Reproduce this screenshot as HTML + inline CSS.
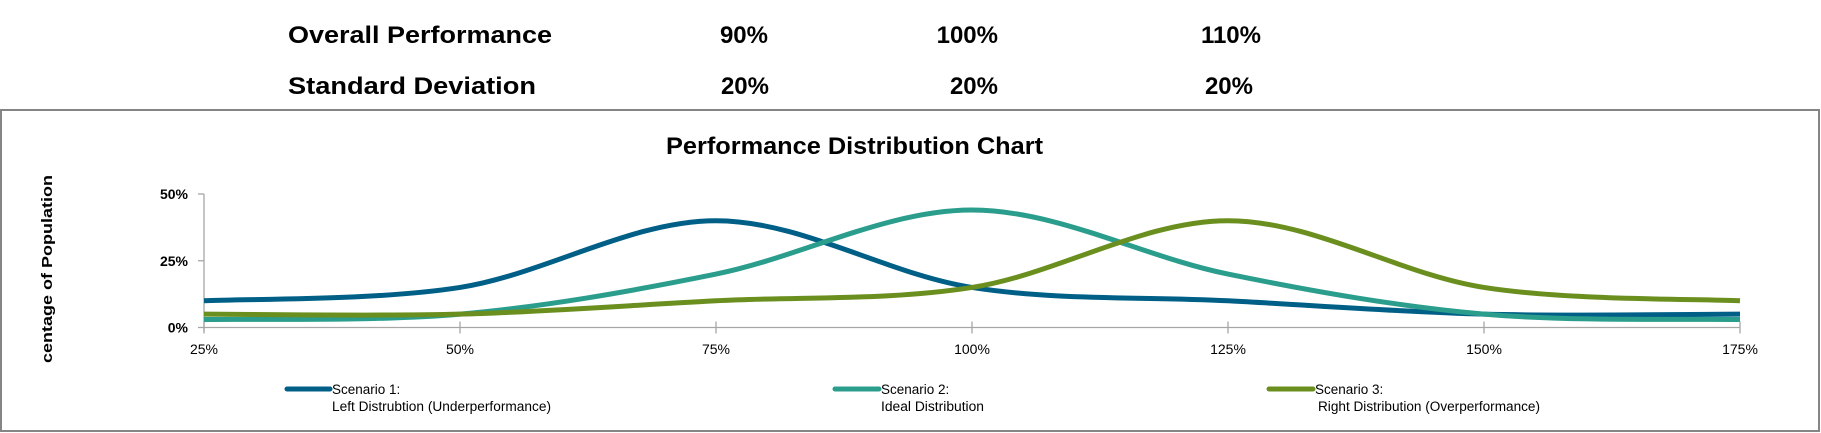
<!DOCTYPE html>
<html><head><meta charset="utf-8"><style>
html,body{margin:0;padding:0;background:#fff;}
svg{display:block;}
text{font-family:"Liberation Sans Narrow","Liberation Sans",sans-serif;}
.hdr{font-family:"Liberation Sans",sans-serif;font-weight:bold;font-size:24px;fill:#000;}
</style></head><body>
<svg id="chart" width="1821" height="433" viewBox="0 0 1821 433" xmlns="http://www.w3.org/2000/svg">
  <g>
    <text class="hdr" x="288" y="43" textLength="264" lengthAdjust="spacingAndGlyphs">Overall Performance</text>
    <text class="hdr" x="768" y="43" text-anchor="end">90%</text>
    <text class="hdr" x="998" y="43" text-anchor="end">100%</text>
    <text class="hdr" x="1261" y="43" text-anchor="end">110%</text>
    <text class="hdr" x="288" y="94" textLength="248" lengthAdjust="spacingAndGlyphs">Standard Deviation</text>
    <text class="hdr" x="769" y="94" text-anchor="end">20%</text>
    <text class="hdr" x="998" y="94" text-anchor="end">20%</text>
    <text class="hdr" x="1253" y="94" text-anchor="end">20%</text>
  </g>
  <rect x="1" y="110" width="1818" height="321" fill="#fff" stroke="#858585" stroke-width="2"/>
  <text x="666" y="154" textLength="377" lengthAdjust="spacingAndGlyphs" font-size="24" font-weight="bold" fill="#000" style="font-family:'Liberation Sans',sans-serif">Performance Distribution Chart</text>
  <text transform="translate(52,269) rotate(-90)" text-anchor="middle" font-size="15" font-weight="bold" textLength="188" lengthAdjust="spacingAndGlyphs" style="font-family:'Liberation Sans',sans-serif">centage of Population</text>
  <g id="axes"></g>
  <g id="series"></g>
  <g id="legend"></g>
</svg>
<script>
const xCategories = [25, 50, 75, 100, 125, 150, 175];
const yTicks = [0, 25, 50];
const scenario1 = [10, 15, 40, 15, 10, 5, 5];
const scenario2 = [3, 5, 20, 44, 20, 5, 3];
const scenario3 = [5, 5, 10, 15, 40, 15, 10];
const seriesNames = ["Scenario 1:", "Scenario 2:", "Scenario 3:"];
const seriesSub = ["Left Distrubtion (Underperformance)", "Ideal Distribution", "Right Distribution (Overperformance)"];

const NS = "http://www.w3.org/2000/svg";
const X0 = 204, X1 = 1740, Y0 = 327.5, Y1 = 194;
function xs(v){ return X0 + (v - xCategories[0]) / (xCategories[xCategories.length-1] - xCategories[0]) * (X1 - X0); }
function ys(v){ return Y0 - v / 50 * (Y0 - Y1); }
function mk(tag, attrs, parent){ const e = document.createElementNS(NS, tag); for (const k in attrs) e.setAttribute(k, attrs[k]); parent.appendChild(e); return e; }

const axes = document.getElementById('axes');
let el = mk('line', {x1:X0, y1:Y0, x2:X1, y2:Y0, stroke:'#a6a6a6', 'stroke-width':1.3}, axes);


el = mk('line', {x1:X0, y1:Y0+4, x2:X0, y2:Y1, stroke:'#a6a6a6', 'stroke-width':1.3}, axes);


xCategories.forEach(c => {
  const x = xs(c);
  const t = mk('line', {x1:x, y1:Y0-6, x2:x, y2:Y0+6, stroke:'#a6a6a6', 'stroke-width':1.3}, axes);
  
  
  const l = mk('text', {x:x, y:354, 'text-anchor':'middle', 'font-size':14, fill:'#000'}, axes);
  l.textContent = c + '%';
  
  
});
yTicks.forEach(v => {
  const y = ys(v);
  const t = mk('line', {x1:X0-6, y1:y, x2:X0, y2:y, stroke:'#a6a6a6', 'stroke-width':1.3}, axes);
  
  
  const l = mk('text', {x:188, y:y+5, 'text-anchor':'end', 'font-size':14, 'font-weight':'bold', fill:'#000'}, axes);
  l.textContent = v + '%';
  
  
});

function smoothPath(vals){
  const p = vals.map((v,i) => [xs(xCategories[i]), ys(v)]);
  let d = 'M' + p[0][0] + ',' + p[0][1];
  const t = 0.5/3*2;
  for (let i = 0; i < p.length-1; i++){
    const a = p[i-1] || p[i], b = p[i], c = p[i+1], e = p[i+2] || c;
    const c1 = [b[0] + (c[0]-a[0])*t/2, b[1] + (c[1]-a[1])*t/2];
    const c2 = [c[0] - (e[0]-b[0])*t/2, c[1] - (e[1]-b[1])*t/2];
    d += ' C' + c1[0] + ',' + c1[1] + ' ' + c2[0] + ',' + c2[1] + ' ' + c[0] + ',' + c[1];
  }
  return d;
}
const colors = ['#005f87', '#2a9d8c', '#6a8f1f'];
const allSeries = [scenario1, scenario2, scenario3];
const sg = document.getElementById('series');
allSeries.forEach((s, i) => {
  const p = mk('path', {d:smoothPath(s), fill:'none', stroke:colors[i], 'stroke-width':5, 'stroke-linecap':'butt'}, sg);
  
  
});

const lg = document.getElementById('legend');
const legX = [[287, 332, 332, 219], [835, 881, 881, 103], [1269, 1315, 1318, 222]];
const legW = [66, 66, 66];
allSeries.forEach((s, i) => {
  const g = mk('g', {}, lg);
  
  
  mk('line', {x1:legX[i][0], y1:389, x2:legX[i][1]-2, y2:389, stroke:colors[i], 'stroke-width':5, 'stroke-linecap':'round'}, g);
  const t1 = mk('text', {x:legX[i][1], y:394, 'font-size':13.5, fill:'#000'}, g);
  t1.textContent = seriesNames[i];
  const t2 = mk('text', {x:legX[i][2], y:411, 'font-size':13.5, fill:'#000', textLength:legX[i][3], lengthAdjust:'spacingAndGlyphs'}, g);
  t2.textContent = seriesSub[i];
});
</script>
</body></html>
